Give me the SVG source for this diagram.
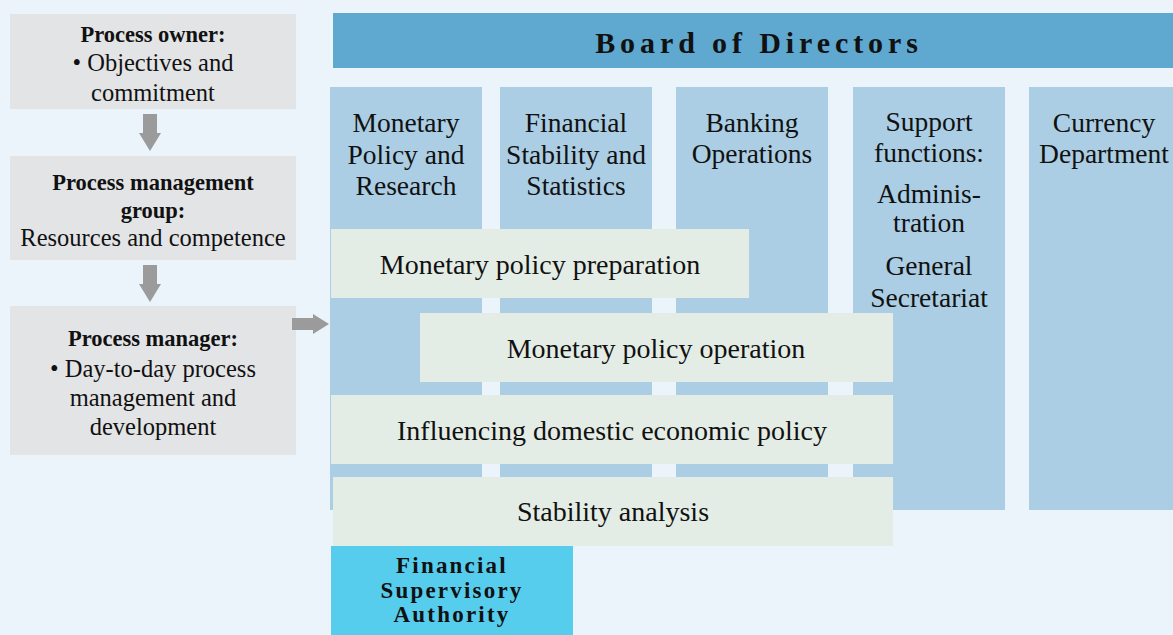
<svg xmlns="http://www.w3.org/2000/svg" width="1173" height="635" viewBox="0 0 1173 635">
  <style>
    text { font-family: "Liberation Serif", "Times New Roman", serif; fill: #111; text-anchor: middle; }
    .lbox { fill: #E3E4E6; }
    .col { fill: #ABCEE4; }
    .bar { fill: #E4EDE5; }
    .lt { font-size: 24.5px; }
    .lb { font-size: 22.5px; font-weight: bold; }
    .ct { font-size: 27.5px; }
    .bt { font-size: 28px; }
    .fsa { font-size: 23px; font-weight: bold; letter-spacing: 2.2px; }
    .arrow { fill: #9B9B9B; }
  </style>
  <rect x="0" y="0" width="1173" height="635" fill="#EAF4FA"/>

  <!-- process governance chain -->
  <g id="process-owner">
    <rect class="lbox" x="10" y="14" width="286" height="95"/>
    <text class="lb" x="153" y="42">Process owner:</text>
    <text class="lt" x="153" y="71">• Objectives and</text>
    <text class="lt" x="153" y="101">commitment</text>
  </g>
  <g id="process-management-group">
    <rect class="lbox" x="10" y="156" width="286" height="104"/>
    <text class="lb" x="153" y="190">Process management</text>
    <text class="lb" x="153" y="218">group:</text>
    <text class="lt" x="153" y="246">Resources and competence</text>
  </g>
  <g id="process-manager">
    <rect class="lbox" x="10" y="306" width="286" height="149"/>
    <text class="lb" x="153" y="346">Process manager:</text>
    <text class="lt" x="153" y="377">• Day-to-day process</text>
    <text class="lt" x="153" y="406">management and</text>
    <text class="lt" x="153" y="435">development</text>
  </g>

  <!-- departments -->
  <g id="board">
    <rect x="333" y="13" width="840" height="55" fill="#5FA8D0"/>
    <text x="759" y="53" font-size="30" font-weight="bold" letter-spacing="4.9">Board of Directors</text>
  </g>
  <g id="dept-monetary-policy">
    <rect class="col" x="330" y="87" width="152" height="423"/>
    <text class="ct" x="406" y="132">Monetary</text>
    <text class="ct" x="406" y="164">Policy and</text>
    <text class="ct" x="406" y="195">Research</text>
  </g>
  <g id="dept-financial-stability">
    <rect class="col" x="500" y="87" width="152" height="423"/>
    <text class="ct" x="576" y="132">Financial</text>
    <text class="ct" x="576" y="164">Stability and</text>
    <text class="ct" x="576" y="195">Statistics</text>
  </g>
  <g id="dept-banking-operations">
    <rect class="col" x="676" y="87" width="152" height="423"/>
    <text class="ct" x="752" y="132">Banking</text>
    <text class="ct" x="752" y="163">Operations</text>
  </g>
  <g id="dept-support">
    <rect class="col" x="853" y="87" width="152" height="423"/>
    <text class="ct" x="929" y="131">Support</text>
    <text class="ct" x="929" y="162">functions:</text>
    <text class="ct" x="929" y="203">Adminis-</text>
    <text class="ct" x="929" y="232">tration</text>
    <text class="ct" x="929" y="275">General</text>
    <text class="ct" x="929" y="307">Secretariat</text>
  </g>
  <g id="dept-currency">
    <rect class="col" x="1029" y="87" width="144" height="423"/>
    <text class="ct" x="1104" y="132">Currency</text>
    <text class="ct" x="1104" y="163">Department</text>
  </g>

  <!-- cross-departmental processes -->
  <g id="proc-preparation">
    <rect class="bar" x="331" y="229" width="418" height="69"/>
    <text class="bt" x="540" y="274">Monetary policy preparation</text>
  </g>
  <g id="proc-operation">
    <rect class="bar" x="420" y="313" width="473" height="69"/>
    <text class="bt" x="656" y="358">Monetary policy operation</text>
  </g>
  <g id="proc-influencing">
    <rect class="bar" x="331" y="395" width="562" height="69"/>
    <text class="bt" x="612" y="440">Influencing domestic economic policy</text>
  </g>
  <g id="proc-stability">
    <rect class="bar" x="333" y="477" width="560" height="69"/>
    <text class="bt" x="613" y="521">Stability analysis</text>
  </g>

  <g id="fsa">
    <rect x="331" y="546" width="242" height="89" fill="#57CDEE"/>
    <text class="fsa" x="452" y="573">Financial</text>
    <text class="fsa" x="452" y="598">Supervisory</text>
    <text class="fsa" x="452" y="622">Authority</text>
  </g>

  <!-- block arrows -->
  <g id="connectors">
    <polygon class="arrow" points="143,114 157,114 157,133 161,133 150,151 139,133 143,133"/>
    <polygon class="arrow" points="143,265 157,265 157,284 161,284 150,302 139,284 143,284"/>
    <polygon class="arrow" points="292,318 313,318 313,314 329,324 313,334 313,330 292,330"/>
  </g>
</svg>
